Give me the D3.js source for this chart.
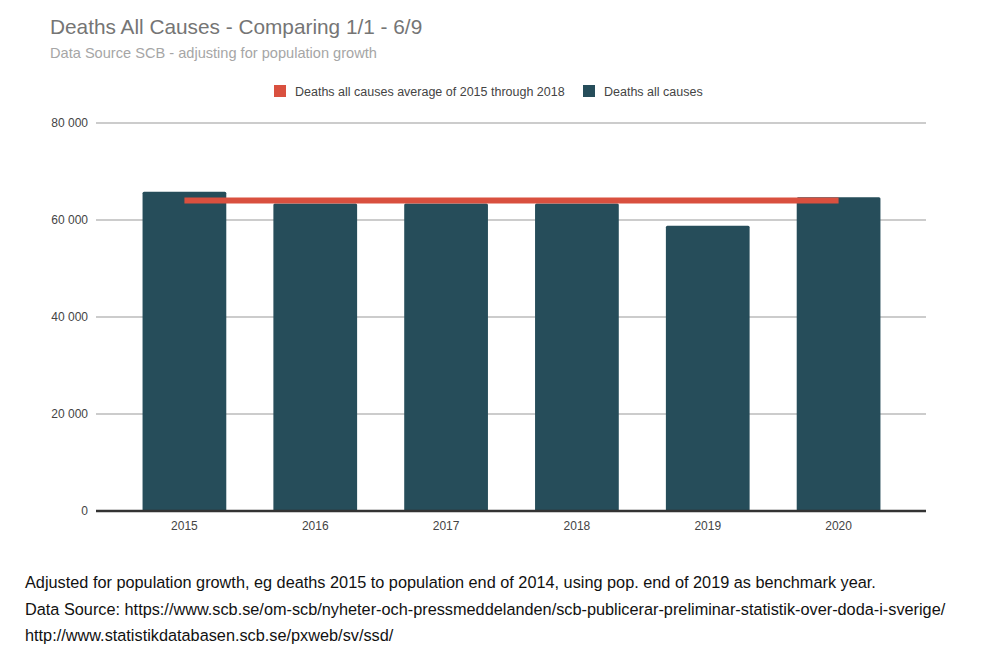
<!DOCTYPE html>
<html>
<head>
<meta charset="utf-8">
<script src="https://cdn.jsdelivr.net/npm/d3@7"></script>
<style>
  body { margin: 0; background: #fff; font-family: "Liberation Sans", Arial, sans-serif; }
</style>
</head>
<body>
<div id="chart"></div>
<script>
// Chart data
const years = ["2015", "2016", "2017", "2018", "2019", "2020"];
const deaths = [65800, 63400, 63400, 63400, 58800, 64700];
const averageDeaths = [64000, 64000, 64000, 64000, 64000, 64000];
const yTicks = [0, 20000, 40000, 60000, 80000];
const footnotes = [
  "Adjusted for population growth, eg deaths 2015 to population end of 2014, using pop. end of 2019 as benchmark year.",
  "Data Source: https://www.scb.se/om-scb/nyheter-och-pressmeddelanden/scb-publicerar-preliminar-statistik-over-doda-i-sverige/",
  "http://www.statistikdatabasen.scb.se/pxweb/sv/ssd/"
];

const width = 984;
const height = 661;
const margin = { top: 123, right: 58, bottom: 150, left: 96 };

const barColor = "#264d5a";
const lineColor = "#d9503f";

const svg = d3.select("#chart")
  .append("svg")
  .attr("width", width)
  .attr("height", height);

// Title and subtitle
svg.append("text")
  .attr("x", 50)
  .attr("y", 34)
  .attr("fill", "#757575")
  .style("font-size", "20.8px")
  .text("Deaths All Causes - Comparing 1/1 - 6/9");

svg.append("text")
  .attr("x", 50)
  .attr("y", 58)
  .attr("fill", "#a6a6a6")
  .style("font-size", "14.6px")
  .text("Data Source SCB - adjusting for population growth");

// Scales
const xScale = d3.scaleBand()
  .domain(years)
  .range([119, 904])
  .paddingInner(0.36)
  .paddingOuter(0.18);

const yScale = d3.scaleLinear()
  .domain([0, 80000])
  .range([height - margin.bottom, margin.top]);

// Gridlines
svg.append("g")
  .selectAll("line")
  .data(yTicks.filter(d => d > 0))
  .enter()
  .append("line")
  .attr("x1", margin.left)
  .attr("x2", width - margin.right)
  .attr("y1", d => yScale(d))
  .attr("y2", d => yScale(d))
  .attr("stroke", "#cccccc")
  .attr("stroke-width", 2);

// Y axis labels
const yAxis = svg.append("g")
  .attr("transform", `translate(${margin.left}, 0)`)
  .call(d3.axisLeft(yScale)
    .tickValues(yTicks)
    .tickSize(0)
    .tickPadding(8)
    .tickFormat(d => d3.format(",")(d).replace(/,/g, " ")));
yAxis.select(".domain").remove();
yAxis.selectAll("text")
  .attr("fill", "#444")
  .style("font-size", "12px")
  .style("font-family", "Liberation Sans, Arial, sans-serif");

// Bars
svg.append("g")
  .selectAll("rect")
  .data(deaths)
  .enter()
  .append("rect")
  .attr("x", (d, i) => xScale(years[i]))
  .attr("y", d => yScale(d))
  .attr("width", xScale.bandwidth())
  .attr("height", d => yScale(0) - yScale(d))
  .attr("rx", 1.5)
  .attr("fill", barColor);

// Average line
const line = d3.line()
  .x((d, i) => xScale(years[i]) + xScale.bandwidth() / 2)
  .y(d => yScale(d));

svg.append("path")
  .datum(averageDeaths)
  .attr("d", line)
  .attr("fill", "none")
  .attr("stroke", lineColor)
  .attr("stroke-width", 6);

// X axis
const xAxis = svg.append("g")
  .attr("transform", `translate(0, ${yScale(0)})`)
  .call(d3.axisBottom(xScale).tickSize(0).tickPadding(10));
xAxis.select(".domain").remove();
xAxis.selectAll("text")
  .attr("fill", "#444")
  .style("font-size", "12px")
  .style("font-family", "Liberation Sans, Arial, sans-serif");

svg.append("line")
  .attr("x1", margin.left)
  .attr("x2", width - margin.right)
  .attr("y1", yScale(0))
  .attr("y2", yScale(0))
  .attr("stroke", "#333")
  .attr("stroke-width", 2.5);

// Legend
const legendItems = [
  { label: "Deaths all causes average of 2015 through 2018", color: lineColor, x: 274 },
  { label: "Deaths all causes", color: barColor, x: 583 }
];

const legend = svg.append("g");
legend.selectAll("rect")
  .data(legendItems)
  .enter()
  .append("rect")
  .attr("x", d => d.x)
  .attr("y", 85)
  .attr("width", 12)
  .attr("height", 12)
  .attr("fill", d => d.color);

legend.selectAll("text")
  .data(legendItems)
  .enter()
  .append("text")
  .attr("x", d => d.x + 21)
  .attr("y", 95.5)
  .attr("fill", "#444")
  .style("font-size", "12.5px")
  .text(d => d.label);

// Footnotes
svg.append("g")
  .selectAll("text")
  .data(footnotes)
  .enter()
  .append("text")
  .attr("x", 25)
  .attr("y", (d, i) => 588 + i * 26.5)
  .attr("fill", "#111")
  .style("font-size", "16.3px")
  .text(d => d);
</script>
</body>
</html>
